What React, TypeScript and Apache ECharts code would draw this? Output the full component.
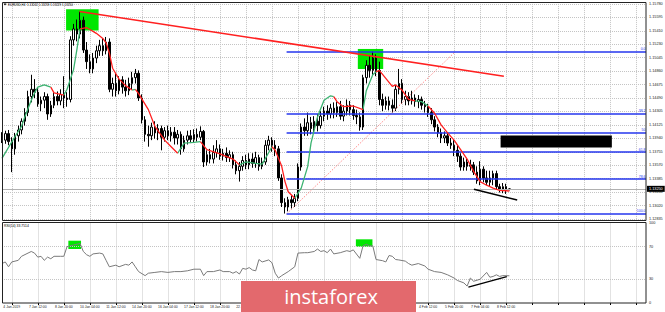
import { useEffect, useRef } from 'react';
import * as echarts from 'echarts';

// ---- time axis (H4 bars, one label every 8 bars) ----
const X_LABELS = [
  '4 Jan 2019', '7 Jan 12:00', '8 Jan 20:00', '10 Jan 04:00', '11 Jan 12:00', '14 Jan 20:00',
  '16 Jan 04:00', '17 Jan 12:00', '18 Jan 20:00', '22 Jan 04:00', '23 Jan 12:00', '24 Jan 20:00',
  '28 Jan 04:00', '29 Jan 12:00', '30 Jan 20:00', '1 Feb 04:00', '4 Feb 12:00', '5 Feb 20:00',
  '7 Feb 04:00', '8 Feb 12:00',
];
const SLOT_COUNT = 199;
const FIRST_LABEL_SLOT = 3;
const LABEL_EVERY = 8;

// ---- price axis tick labels (ascending) ----
const Y_LABELS = [
  '1.12835', '1.13020', '1.13200', '1.13385', '1.13570', '1.13755', '1.13940', '1.14125', '1.14305',
  '1.14490', '1.14675', '1.14860', '1.15045', '1.15230', '1.15410', '1.15595', '1.15780',
];
const Y_MIN = 1.12835;
const Y_STEP = 0.00185;

// ---- EURUSD H4 candles: [open, close, low, high] ----
const CANDLES: number[][] = [
  [1.1399, 1.1392, 1.1388, 1.1403], [1.1392, 1.1401, 1.1387, 1.1405], [1.1401, 1.1390, 1.1385, 1.1406],
  [1.1390, 1.1380, 1.1348, 1.1396], [1.1380, 1.1398, 1.1372, 1.1402], [1.1398, 1.1406, 1.1390, 1.1412],
  [1.1406, 1.1418, 1.1400, 1.1422], [1.1418, 1.1430, 1.1412, 1.1436], [1.1430, 1.1452, 1.1425, 1.1460],
  [1.1452, 1.1462, 1.1444, 1.1482], [1.1462, 1.1458, 1.1450, 1.1476], [1.1458, 1.1442, 1.1438, 1.1464],
  [1.1442, 1.1447, 1.1432, 1.1452], [1.1447, 1.1452, 1.1436, 1.1458], [1.1452, 1.1428, 1.1420, 1.1456],
  [1.1428, 1.1440, 1.1424, 1.1446], [1.1440, 1.1452, 1.1436, 1.1458], [1.1452, 1.1446, 1.1440, 1.1459],
  [1.1446, 1.1455, 1.1440, 1.1462], [1.1455, 1.1450, 1.1436, 1.1480], [1.1450, 1.1448, 1.1438, 1.1458],
  [1.1448, 1.1530, 1.1444, 1.1535], [1.1530, 1.1545, 1.1522, 1.1552], [1.1545, 1.1538, 1.1528, 1.1558],
  [1.1538, 1.1557, 1.1532, 1.1569], [1.1557, 1.1516, 1.1512, 1.1562], [1.1516, 1.1500, 1.1490, 1.1527],
  [1.1500, 1.1490, 1.1484, 1.1510], [1.1490, 1.1505, 1.1484, 1.1512], [1.1505, 1.1515, 1.1498, 1.1522],
  [1.1515, 1.1522, 1.1508, 1.1530], [1.1522, 1.1515, 1.1508, 1.1532], [1.1515, 1.1527, 1.1510, 1.1534],
  [1.1527, 1.1462, 1.1458, 1.1532], [1.1462, 1.1470, 1.1452, 1.1478], [1.1470, 1.1460, 1.1452, 1.1484],
  [1.1460, 1.1475, 1.1455, 1.1480], [1.1475, 1.1465, 1.1456, 1.1480], [1.1465, 1.1460, 1.1452, 1.1475],
  [1.1460, 1.1470, 1.1454, 1.1478], [1.1470, 1.1478, 1.1462, 1.1486], [1.1478, 1.1484, 1.1470, 1.1490],
  [1.1484, 1.1450, 1.1446, 1.1488], [1.1450, 1.1420, 1.1415, 1.1455], [1.1420, 1.1400, 1.1390, 1.1425],
  [1.1400, 1.1398, 1.1383, 1.1412], [1.1398, 1.1410, 1.1392, 1.1416], [1.1410, 1.1402, 1.1394, 1.1418],
  [1.1402, 1.1408, 1.1392, 1.1414], [1.1408, 1.1396, 1.1378, 1.1412], [1.1396, 1.1405, 1.1390, 1.1410],
  [1.1405, 1.1398, 1.1392, 1.1412], [1.1398, 1.1403, 1.1390, 1.1410], [1.1403, 1.1395, 1.1386, 1.1410],
  [1.1395, 1.1400, 1.1386, 1.1406], [1.1400, 1.1380, 1.1372, 1.1404], [1.1380, 1.1392, 1.1376, 1.1398],
  [1.1392, 1.1398, 1.1386, 1.1405], [1.1398, 1.1393, 1.1388, 1.1406], [1.1393, 1.1400, 1.1388, 1.1407],
  [1.1400, 1.1396, 1.1390, 1.1408], [1.1396, 1.1404, 1.1392, 1.1411], [1.1404, 1.1362, 1.1355, 1.1406],
  [1.1362, 1.1372, 1.1357, 1.1378], [1.1372, 1.1366, 1.1360, 1.1380], [1.1366, 1.1375, 1.1360, 1.1385],
  [1.1375, 1.1380, 1.1368, 1.1392], [1.1380, 1.1370, 1.1365, 1.1386], [1.1370, 1.1374, 1.1364, 1.1380],
  [1.1374, 1.1368, 1.1362, 1.1382], [1.1368, 1.1372, 1.1362, 1.1378], [1.1372, 1.1358, 1.1353, 1.1376],
  [1.1358, 1.1350, 1.1345, 1.1364], [1.1350, 1.1356, 1.1335, 1.1362], [1.1356, 1.1364, 1.1350, 1.1370],
  [1.1364, 1.1358, 1.1352, 1.1372], [1.1358, 1.1366, 1.1352, 1.1374], [1.1366, 1.1360, 1.1354, 1.1374],
  [1.1360, 1.1368, 1.1354, 1.1376], [1.1368, 1.1356, 1.1350, 1.1372], [1.1356, 1.1362, 1.1352, 1.1368],
  [1.1362, 1.1385, 1.1358, 1.1392], [1.1385, 1.1392, 1.1378, 1.1398], [1.1392, 1.1385, 1.1376, 1.1396],
  [1.1385, 1.1380, 1.1370, 1.1392], [1.1380, 1.1340, 1.1336, 1.1384], [1.1340, 1.1306, 1.1300, 1.1345],
  [1.1306, 1.1300, 1.1291, 1.1312], [1.1300, 1.1310, 1.1294, 1.1314], [1.1310, 1.1306, 1.1298, 1.1316],
  [1.1306, 1.1312, 1.1300, 1.1318], [1.1312, 1.1355, 1.1308, 1.1360], [1.1355, 1.1410, 1.1350, 1.1415],
  [1.1410, 1.1405, 1.1398, 1.1422], [1.1405, 1.1416, 1.1398, 1.1430], [1.1416, 1.1408, 1.1400, 1.1424],
  [1.1408, 1.1418, 1.1402, 1.1425], [1.1418, 1.1412, 1.1404, 1.1428], [1.1412, 1.1425, 1.1408, 1.1432],
  [1.1425, 1.1432, 1.1418, 1.1438], [1.1432, 1.1428, 1.1420, 1.1440], [1.1428, 1.1436, 1.1422, 1.1442],
  [1.1436, 1.1430, 1.1422, 1.1444], [1.1430, 1.1438, 1.1424, 1.1445], [1.1438, 1.1425, 1.1420, 1.1446],
  [1.1425, 1.1432, 1.1418, 1.1440], [1.1432, 1.1440, 1.1426, 1.1448], [1.1440, 1.1434, 1.1426, 1.1446],
  [1.1434, 1.1426, 1.1420, 1.1440], [1.1426, 1.1424, 1.1414, 1.1434], [1.1424, 1.1410, 1.1405, 1.1430],
  [1.1410, 1.1478, 1.1406, 1.1482], [1.1478, 1.1495, 1.1470, 1.1502], [1.1495, 1.1488, 1.1478, 1.1508],
  [1.1488, 1.1505, 1.1482, 1.1514], [1.1505, 1.1488, 1.1480, 1.1510], [1.1488, 1.1448, 1.1440, 1.1500],
  [1.1448, 1.1440, 1.1432, 1.1456], [1.1440, 1.1446, 1.1434, 1.1452], [1.1446, 1.1440, 1.1433, 1.1452],
  [1.1440, 1.1436, 1.1430, 1.1448], [1.1436, 1.1462, 1.1432, 1.1468], [1.1462, 1.1470, 1.1455, 1.1490],
  [1.1470, 1.1448, 1.1442, 1.1476], [1.1448, 1.1452, 1.1440, 1.1460], [1.1452, 1.1446, 1.1440, 1.1458],
  [1.1446, 1.1450, 1.1441, 1.1460], [1.1450, 1.1445, 1.1438, 1.1455], [1.1445, 1.1448, 1.1436, 1.1454],
  [1.1448, 1.1440, 1.1434, 1.1452], [1.1440, 1.1438, 1.1430, 1.1446], [1.1438, 1.1430, 1.1424, 1.1442],
  [1.1430, 1.1420, 1.1414, 1.1436], [1.1420, 1.1410, 1.1404, 1.1425], [1.1410, 1.1402, 1.1396, 1.1414],
  [1.1402, 1.1395, 1.1388, 1.1408], [1.1395, 1.1398, 1.1388, 1.1404], [1.1398, 1.1388, 1.1384, 1.1402],
  [1.1388, 1.1385, 1.1380, 1.1395], [1.1385, 1.1378, 1.1370, 1.1392], [1.1378, 1.1370, 1.1362, 1.1385],
  [1.1370, 1.1355, 1.1350, 1.1374], [1.1355, 1.1362, 1.1350, 1.1368], [1.1362, 1.1356, 1.1350, 1.1366],
  [1.1356, 1.1358, 1.1350, 1.1365], [1.1358, 1.1348, 1.1344, 1.1362], [1.1348, 1.1336, 1.1332, 1.1356],
  [1.1336, 1.1352, 1.1330, 1.1363], [1.1352, 1.1340, 1.1334, 1.1356], [1.1340, 1.1334, 1.1330, 1.1350],
  [1.1334, 1.1340, 1.1328, 1.1350], [1.1340, 1.1346, 1.1330, 1.1350], [1.1346, 1.1328, 1.1324, 1.1350],
  [1.1328, 1.1324, 1.1320, 1.1332], [1.1324, 1.1328, 1.1319, 1.1333], [1.1328, 1.1323, 1.1318, 1.1332],
  [1.13242, 1.13250, 1.13229, 1.13259],
];
const LAST_PRICE = 1.1325;
const LAST_PRICE_TEXT = '1.13250';
const TITLE_TEXT = 'EURUSD,H4  1.13242 1.13259 1.13229 1.13250';

// ---- coloured moving average (bar index, price) ----
const MA_UP_SEGMENTS: number[][][] = [
  [[0, 1.1367], [4, 1.1397], [6, 1.1411], [7, 1.1424], [9, 1.1447], [10, 1.1457], [11, 1.1465], [13, 1.1468], [15, 1.1465]],
  [[19, 1.1454], [20, 1.1462], [22, 1.1489], [23, 1.1516], [24, 1.1545]],
  [[40, 1.1461], [41, 1.1462]],
  [[54, 1.1374], [56, 1.1388], [59, 1.1389], [61, 1.139]],
  [[73, 1.1358], [75, 1.1362], [78, 1.136], [80, 1.1359], [83, 1.1383]],
  [[90, 1.1312], [92, 1.1326], [94, 1.1356], [95, 1.1388], [97, 1.1424], [99, 1.1447], [101, 1.1453], [102, 1.1452]],
  [[111, 1.1434], [112, 1.146], [114, 1.1482], [115, 1.1486]],
  [[127, 1.1446], [129, 1.1445], [131, 1.1439]],
];
const MA_DOWN_SEGMENTS: number[][][] = [
  [[15, 1.1465], [16, 1.1457], [19, 1.1454]],
  [[24, 1.1545], [26, 1.1547], [29, 1.1539], [31, 1.1532], [32, 1.1526], [33, 1.1512], [34, 1.1491], [36, 1.1476], [38, 1.1467], [40, 1.1461]],
  [[41, 1.1462], [42, 1.1456], [45, 1.1434], [47, 1.1411], [50, 1.1392], [52, 1.1383], [54, 1.1374]],
  [[61, 1.139], [63, 1.1379], [67, 1.1373], [71, 1.1366], [73, 1.1358]],
  [[83, 1.1383], [84, 1.1378], [86, 1.1356], [87, 1.1335], [88, 1.1321], [90, 1.1312]],
  [[102, 1.1452], [103, 1.1445], [105, 1.1438], [108, 1.1439], [111, 1.1434]],
  [[115, 1.1486], [116, 1.1488], [118, 1.1477], [120, 1.1466], [121, 1.1468], [123, 1.1461], [125, 1.1448], [127, 1.1446]],
  [[131, 1.1439], [133, 1.1429], [135, 1.1413], [137, 1.1402], [139, 1.1392], [141, 1.1379], [143, 1.1366], [145, 1.1349], [147, 1.1335], [149, 1.133], [151, 1.1326], [153, 1.1323], [156, 1.1322]],
];

// ---- RSI(14) (bar index, value) ----
const RSI_POINTS: number[][] = [
  [0, 49], [1, 51], [2, 45], [3, 51], [5, 53], [6, 58], [8, 62], [9, 64], [10, 62], [11, 57], [12, 58], [13, 53],
  [14, 57], [15, 55], [16, 58], [18, 58], [19, 58], [20, 70], [22, 72], [24, 74], [25, 64], [26, 60], [27, 58],
  [28, 61], [30, 62], [31, 61], [32, 53], [33, 45], [35, 47], [36, 45], [38, 48], [39, 47], [40, 51], [41, 45],
  [42, 39], [44, 34], [45, 37], [47, 38], [49, 39], [51, 38], [53, 39], [55, 39], [57, 40], [59, 42], [61, 42],
  [62, 34], [63, 39], [65, 39], [67, 41], [68, 39], [70, 39], [71, 37], [72, 39], [73, 36], [74, 43], [75, 42],
  [76, 44], [77, 41], [78, 40], [79, 54], [80, 51], [82, 53.5], [83, 50], [84, 37], [85, 31], [86, 34], [88, 39],
  [90, 45], [91, 62], [93, 62.5], [94, 62.5], [96, 64], [97, 67], [98, 64], [99, 65], [100, 62.5], [101, 67],
  [102, 61], [104, 62.5], [106, 65], [107, 64], [108, 66], [110, 55.5], [111, 71], [112, 73], [113, 71], [114, 71],
  [115, 54], [117, 52.6], [118, 51], [119, 59], [120, 58], [121, 54], [122, 53.5], [124, 52], [125, 49], [126, 47],
  [128, 49], [130, 46], [131, 42], [133, 39], [135, 38], [137, 35], [139, 31], [140, 28], [142, 25], [143, 21],
  [144, 31], [145, 27], [147, 29.5], [149, 38], [150, 32], [151, 33], [152, 35], [153, 33], [154, 34], [156, 33.8],
];
const RSI_TITLE = 'RSI(14) 33.7514';
const RSI_LEVELS = [30, 70];
const RSI_AXIS_LABELS = [0, 30, 70, 100];

// ---- Fibonacci retracement ----
const FIB_HIGH = 1.15135;
const FIB_LOW = 1.12905;
const FIB_RATIOS = [0, 0.382, 0.5, 0.618, 0.786, 1];
const FIB_LABELS = ['0.0', '38.2', '50', '61.8', '78.6', '100.0'];
const FIB_START = 87.5;
const FIB_END = 198;
const FIB_DIAGONAL = [[87.5, 1.12905], [139.3, 1.15135]];

// ---- drawn objects (bar index, price / value) ----
const RED_TRENDLINE = [[23.8, 1.1569], [154.3, 1.148]];
const BLACK_TRENDLINE = [[145.1, 1.13244], [158.4, 1.13097]];
const GREEN_BOXES = [
  [[19.7, 1.1572], [29.7, 1.1543]],
  [[109.4, 1.15175], [117.2, 1.14899]],
];
const BLACK_BOX = [[153.3, 1.13984], [187.5, 1.1382]];
const RSI_GREEN_BOXES = [
  [[20.4, 77.4], [24.3, 67.1]],
  [[108.8, 79.1], [113.9, 69.9]],
];
const RSI_TRENDLINE = [[143.4, 19.7], [155.2, 32.8]];

const FONT = 'Liberation Sans';
const SMALL = 3.8;
const X_FONT = 3.4;
const GRID_LINE = { color: '#c4c4c4', type: 'dotted' as const, width: 1 };
const BLUE = '#2436ee';
const RED = '#ff2020';
const MA_GREEN = '#3cb371';

export default function App() {
  const ref = useRef<HTMLDivElement>(null);

  useEffect(() => {
    if (!ref.current) return;
    const chart = echarts.init(ref.current, undefined, { renderer: 'svg' });

    const cats: string[] = [];
    for (let i = 0; i < SLOT_COUNT; i++) {
      const k = (i - FIRST_LABEL_SLOT) / LABEL_EVERY;
      cats.push(Number.isInteger(k) && k >= 0 && k < X_LABELS.length ? X_LABELS[k] : '');
    }
    const onLabelSlot = (i: number) => i >= FIRST_LABEL_SLOT && (i - FIRST_LABEL_SLOT) % LABEL_EVERY === 0;
    const yMax = Y_MIN + (Y_LABELS.length - 1) * Y_STEP;

    const catAxis = (grid: number, labels: boolean) => ({
      type: 'category',
      gridIndex: grid,
      data: cats,
      boundaryGap: false,
      axisLine: { show: false },
      axisTick: labels
        ? { show: true, interval: onLabelSlot, length: 2, lineStyle: { color: '#000' } }
        : { show: false },
      axisLabel: labels
        ? { show: true, interval: onLabelSlot, fontSize: X_FONT, fontFamily: FONT, color: '#222', margin: 2 }
        : { show: false },
      splitLine: { show: true, interval: onLabelSlot, lineStyle: GRID_LINE },
    });
    const hiddenX = (grid: number) => ({ type: 'value', gridIndex: grid, min: 0, max: SLOT_COUNT - 1, show: false });

    const fibLines = FIB_RATIOS.map((r, k) => {
      const p = FIB_HIGH - r * (FIB_HIGH - FIB_LOW);
      return [
        { coord: [FIB_START, p], label: { formatter: FIB_LABELS[k] } },
        { coord: [FIB_END, p] },
      ];
    });

    const maSeries = [
      ...MA_UP_SEGMENTS.map((pts) => ({ pts, color: MA_GREEN })),
      ...MA_DOWN_SEGMENTS.map((pts) => ({ pts, color: RED })),
    ].map(({ pts, color }) => ({
      type: 'line',
      xAxisIndex: 1,
      yAxisIndex: 0,
      data: pts,
      symbol: 'none',
      silent: true,
      z: 6,
      lineStyle: { color, width: 1.3 },
    }));

    const option = {
      animation: false,
      backgroundColor: '#ffffff',
      textStyle: { fontFamily: FONT },
      grid: [
        { left: 2, right: 19, top: 3.9, height: 215.1, outerBoundsMode: 'none' },
        { left: 2, right: 19, top: 222.5, height: 80.5, outerBoundsMode: 'none' },
      ],
      xAxis: [catAxis(0, false), hiddenX(0), catAxis(1, true), hiddenX(1)],
      yAxis: [
        {
          type: 'value',
          gridIndex: 0,
          position: 'right',
          min: Y_MIN,
          max: yMax,
          interval: Y_STEP,
          scale: true,
          axisLine: { show: false },
          axisTick: { show: false },
          splitLine: { show: true, lineStyle: GRID_LINE },
          axisLabel: {
            fontSize: SMALL,
            fontFamily: FONT,
            color: '#222',
            margin: 3,
            formatter: (v: number) => Y_LABELS[Math.round((v - Y_MIN) / Y_STEP)] ?? '',
          },
        },
        {
          type: 'value',
          gridIndex: 1,
          position: 'right',
          min: 0,
          max: 100,
          interval: 10,
          axisLine: { show: false },
          axisTick: { show: false },
          splitLine: { show: false },
          axisLabel: {
            fontSize: SMALL,
            fontFamily: FONT,
            color: '#222',
            margin: 3,
            formatter: (v: number) => (RSI_AXIS_LABELS.includes(Math.round(v)) ? String(Math.round(v)) : ''),
          },
        },
      ],
      series: [
        {
          type: 'line',
          xAxisIndex: 1,
          yAxisIndex: 0,
          data: [],
          z: 1,
          silent: true,
          markArea: {
            silent: true,
            data: GREEN_BOXES.map(([a, b]) => [
              { coord: a, itemStyle: { color: '#00e600', opacity: 1 } },
              { coord: b },
            ]),
          },
        },
        {
          type: 'line',
          xAxisIndex: 1,
          yAxisIndex: 0,
          data: [],
          z: 2,
          silent: true,
          markLine: {
            silent: true,
            symbol: ['none', 'none'],
            lineStyle: { color: '#b0b0b0', type: 'solid', width: 1 },
            label: {
              show: true,
              position: 'end',
              distance: 1,
              formatter: LAST_PRICE_TEXT,
              color: '#fff',
              backgroundColor: '#000',
              padding: [1, 2],
              fontSize: SMALL,
              fontFamily: FONT,
            },
            data: [[{ coord: [0, LAST_PRICE] }, { coord: [SLOT_COUNT - 1, LAST_PRICE] }]],
          },
        },
        {
          type: 'candlestick',
          xAxisIndex: 0,
          yAxisIndex: 0,
          data: CANDLES,
          barWidth: 2,
          z: 3,
          silent: true,
          itemStyle: {
            color: '#ffffff',
            color0: '#000000',
            borderColor: '#000000',
            borderColor0: '#000000',
            borderWidth: 1,
          },
        },
        {
          type: 'line',
          xAxisIndex: 1,
          yAxisIndex: 0,
          data: [],
          z: 4,
          silent: true,
          markArea: {
            silent: true,
            data: [[{ coord: BLACK_BOX[0], itemStyle: { color: '#000', opacity: 1 } }, { coord: BLACK_BOX[1] }]],
          },
          markLine: {
            silent: true,
            symbol: ['none', 'none'],
            lineStyle: { color: BLUE, type: 'solid', width: 1.6 },
            label: {
              show: true,
              position: 'insideEndTop',
              distance: 0.5,
              color: BLUE,
              fontSize: 3.5,
              fontFamily: FONT,
            },
            data: fibLines,
          },
        },
        {
          type: 'line',
          xAxisIndex: 1,
          yAxisIndex: 0,
          data: FIB_DIAGONAL,
          symbol: 'none',
          silent: true,
          z: 4,
          lineStyle: { color: '#ff7070', type: [1.5, 1.5], width: 0.8 },
        },
        ...maSeries,
        {
          type: 'line',
          xAxisIndex: 1,
          yAxisIndex: 0,
          data: RED_TRENDLINE,
          symbol: 'none',
          silent: true,
          z: 7,
          lineStyle: { color: RED, width: 1.6 },
        },
        {
          type: 'line',
          xAxisIndex: 1,
          yAxisIndex: 0,
          data: BLACK_TRENDLINE,
          symbol: 'none',
          silent: true,
          z: 7,
          lineStyle: { color: '#000', width: 1.4 },
        },
        {
          type: 'line',
          xAxisIndex: 3,
          yAxisIndex: 1,
          data: RSI_POINTS,
          symbol: 'none',
          silent: true,
          z: 5,
          lineStyle: { color: '#7a7a7a', width: 1 },
          markArea: {
            silent: true,
            data: RSI_GREEN_BOXES.map(([a, b]) => [
              { coord: a, itemStyle: { color: '#00e600', opacity: 1 } },
              { coord: b },
            ]),
          },
          markLine: {
            silent: true,
            symbol: ['none', 'none'],
            label: { show: false },
            lineStyle: GRID_LINE,
            data: RSI_LEVELS.map((v) => ({ yAxis: v })),
          },
        },
        {
          type: 'line',
          xAxisIndex: 3,
          yAxisIndex: 1,
          data: RSI_TRENDLINE,
          symbol: 'none',
          silent: true,
          z: 7,
          lineStyle: { color: '#000', width: 1.4 },
        },
      ],
      graphic: [
        {
          type: 'rect',
          silent: true,
          z: 50,
          shape: { x: 2.5, y: 2.5, width: 643.5, height: 218 },
          style: { fill: 'none', stroke: '#222', lineWidth: 1 },
        },
        {
          type: 'rect',
          silent: true,
          z: 50,
          shape: { x: 2.5, y: 222.5, width: 643.5, height: 80.5 },
          style: { fill: 'none', stroke: '#222', lineWidth: 1 },
        },
        {
          type: 'polygon',
          silent: true,
          z: 50,
          shape: { points: [[3.5, 3.5], [6.5, 3.5], [5, 5.5]] },
          style: { fill: '#000' },
        },
        {
          type: 'text',
          silent: true,
          z: 50,
          x: 8,
          y: 4.5,
          style: { text: TITLE_TEXT, fontSize: 3, fontFamily: FONT, fill: '#000', verticalAlign: 'middle' },
        },
        {
          type: 'text',
          silent: true,
          z: 50,
          x: 4,
          y: 225.5,
          style: { text: RSI_TITLE, fontSize: 3.4, fontFamily: FONT, fill: '#000', verticalAlign: 'middle' },
        },
        {
          type: 'group',
          silent: true,
          z: 60,
          children: [
            {
              type: 'rect',
              z: 60,
              shape: { x: 241, y: 281, width: 175, height: 31 },
              style: { fill: '#e3696d' },
            },
            {
              type: 'text',
              z: 61,
              x: 331,
              y: 296,
              style: {
                text: 'instaforex',
                fontSize: 20,
                fontFamily: 'Open Sans',
                fill: '#ffffff',
                align: 'center',
                verticalAlign: 'middle',
              },
            },
          ],
        },
      ],
    };

    chart.setOption(option as any);
    return () => chart.dispose();
  }, []);

  return (
    <div
      ref={ref}
      style={{ position: 'absolute', left: 0, top: 0, width: 665, height: 312, background: '#fff' }}
    />
  );
}
